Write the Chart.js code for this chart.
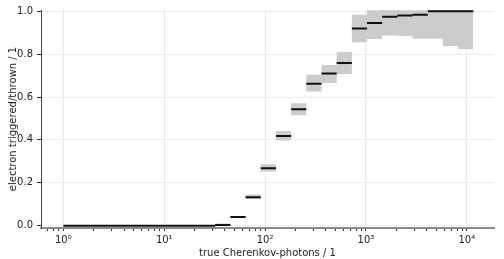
<!DOCTYPE html>
<html>
<head>
<meta charset="utf-8">
<script src="https://cdn.jsdelivr.net/npm/chart.js@4"></script>
<style>
  body { margin: 0; background: #fff; }
  canvas { display: block; }
</style>
</head>
<body>
<canvas id="grafico" width="504" height="259"></canvas>
<script>
// bin edges (true Cherenkov photons), powers of sqrt(2)
const binEdges = [1, 1.414, 2, 2.828, 4, 5.657, 8, 11.31, 16, 22.63, 32, 45.25, 64, 90.51,
  128, 181.0, 256, 362.0, 512, 724.1, 1024, 1448, 2048, 2896, 4096, 5793, 8192, 11585];

// electron triggered / thrown, per bin
const ratio = [0, 0, 0, 0, 0, 0, 0, 0, 0, 0, 0.003, 0.040, 0.133, 0.268, 0.418, 0.543,
  0.662, 0.710, 0.759, 0.920, 0.945, 0.974, 0.980, 0.984, 1.0, 1.0, 1.0];
const ratioLow = [0, 0, 0, 0, 0, 0, 0, 0, 0, 0, 0.0, 0.036, 0.124, 0.253, 0.397, 0.515,
  0.626, 0.665, 0.707, 0.855, 0.871, 0.887, 0.885, 0.872, 0.872, 0.838, 0.823];
const ratioHigh = [0, 0, 0, 0, 0, 0, 0, 0, 0, 0, 0.010, 0.045, 0.145, 0.286, 0.441, 0.571,
  0.704, 0.750, 0.810, 0.984, 1.005, 1.005, 1.005, 1.005, 1.005, 1.005, 1.005];

const xMajorTicks = [1, 10, 100, 1000, 10000];
const xTickLabels = ['10\u2070', '10\u00b9', '10\u00b2', '10\u00b3', '10\u2074'];
const yTicks = [0, 0.2, 0.4, 0.6, 0.8, 1.0];

// segmentos horizontais, um por bin
const segmentos = [];
for (let i = 0; i < ratio.length; i++) {
  segmentos.push({ x: binEdges[i], y: ratio[i] });
  segmentos.push({ x: binEdges[i + 1], y: ratio[i] });
  segmentos.push({ x: binEdges[i + 1], y: null });
}

function degraus(valores) {
  const pts = valores.map((v, i) => ({ x: binEdges[i], y: v }));
  pts.push({ x: binEdges[binEdges.length - 1], y: valores[valores.length - 1] });
  return pts;
}

const fonte = { family: 'DejaVu Sans', size: 10 };

new Chart(document.getElementById('grafico'), {
  type: 'line',
  data: {
    datasets: [
      {
        data: segmentos,
        borderColor: '#111111',
        borderWidth: 2,
        pointRadius: 0,
        spanGaps: false,
        order: 0
      },
      {
        data: degraus(ratioHigh),
        stepped: 'before',
        borderWidth: 0,
        pointRadius: 0,
        backgroundColor: '#cccccc',
        fill: '+1',
        order: 1
      },
      {
        data: degraus(ratioLow),
        stepped: 'before',
        borderWidth: 0,
        pointRadius: 0,
        fill: false,
        order: 2
      }
    ]
  },
  options: {
    responsive: false,
    animation: false,
    parsing: false,
    layout: { padding: { left: 0, right: 10, top: 8, bottom: 0 } },
    plugins: {
      legend: { display: false },
      tooltip: { enabled: false }
    },
    scales: {
      x: {
        type: 'logarithmic',
        min: 0.64,
        max: 18580,
        afterBuildTicks: (scale) => {
          const ticks = [];
          for (const base of xMajorTicks) {
            for (let m = 1; m <= 9; m++) {
              const v = base * m;
              if (v >= scale.min && v <= scale.max) ticks.push({ value: v, major: m === 1 });
            }
          }
          for (let m = 7; m <= 9; m++) ticks.unshift({ value: m / 10, major: false });
          scale.ticks = ticks.sort((a, b) => a.value - b.value);
        },
        afterFit: (scale) => { scale.height = 31; },
        border: { color: '#8a8a8a', width: 2 },
        grid: {
          color: (ctx) => (ctx.tick && ctx.tick.major ? '#e8e8e8' : 'rgba(0,0,0,0)'),
          tickColor: '#333333',
          tickLength: 3
        },
        ticks: {
          autoSkip: false,
          maxRotation: 0,
          padding: 3,
          color: '#222222',
          font: fonte,
          callback: function (value) {
            const idx = xMajorTicks.indexOf(value);
            return idx >= 0 ? xTickLabels[idx] : '';
          }
        },
        title: {
          display: true,
          text: 'true Cherenkov-photons / 1',
          color: '#222222',
          font: fonte,
          padding: { top: 0, bottom: 0 }
        }
      },
      y: {
        min: -0.011,
        max: 1.006,
        afterBuildTicks: (scale) => {
          scale.ticks = yTicks.map((v) => ({ value: v }));
        },
        afterFit: (scale) => { scale.width = 41; },
        border: { color: '#444444', width: 1 },
        grid: {
          color: '#ececec',
          tickColor: '#333333',
          tickLength: 4
        },
        ticks: {
          padding: 4,
          color: '#222222',
          font: fonte,
          callback: (value) => value.toFixed(1)
        },
        title: {
          display: true,
          text: 'electron triggered/thrown / 1',
          color: '#222222',
          font: fonte,
          padding: { top: 7, bottom: 0 }
        }
      }
    }
  }
});
</script>
</body>
</html>
